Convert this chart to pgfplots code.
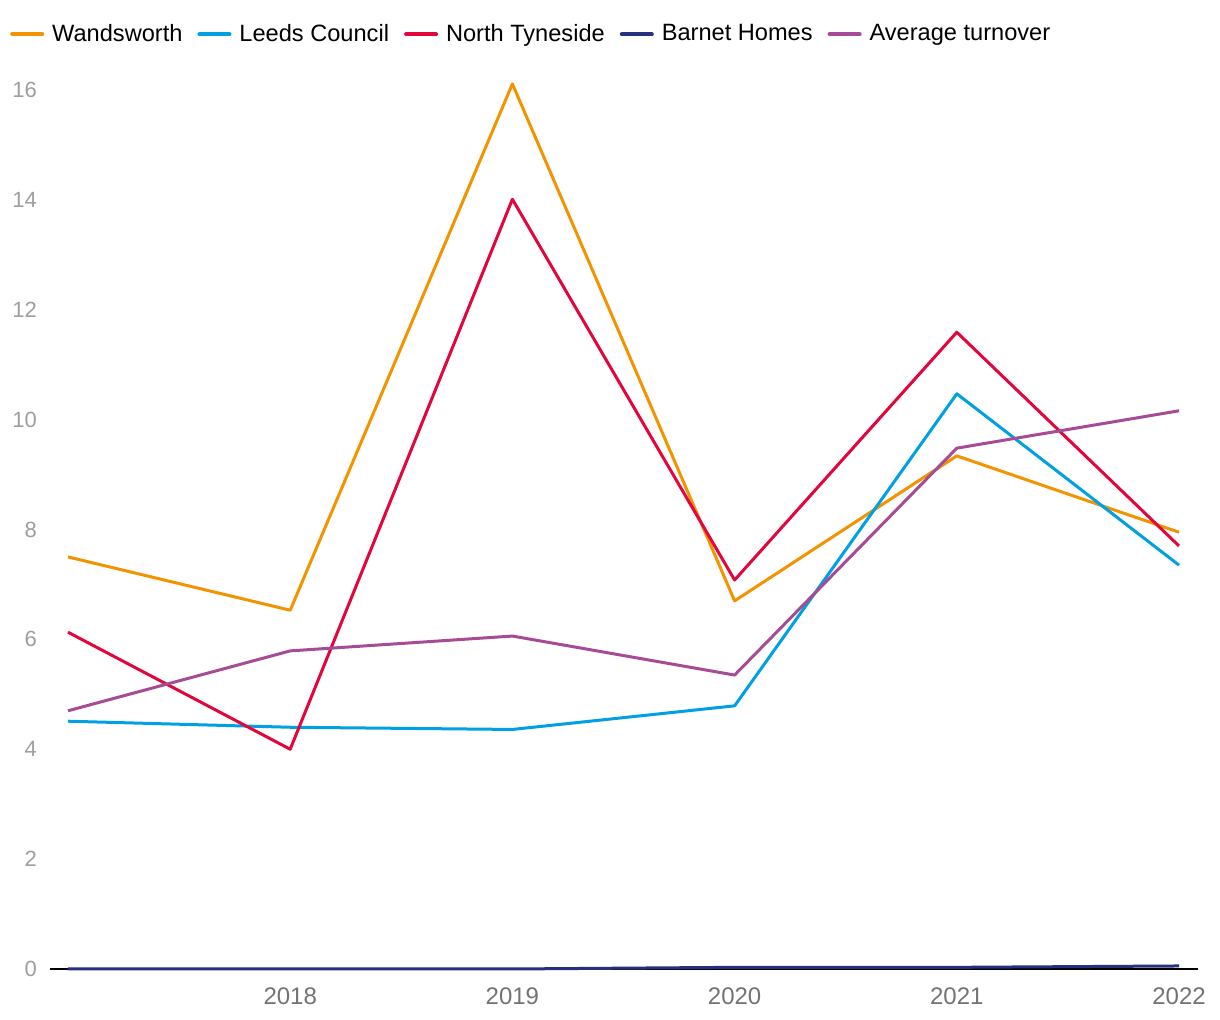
\documentclass[border=0pt]{standalone}
\usepackage{pgfplots}
\pgfplotsset{compat=1.18}
\usepackage{fontspec}
\setmainfont{Liberation Sans}
\definecolor{cW}{HTML}{F29400}
\definecolor{cL}{HTML}{00A0E3}
\definecolor{cN}{HTML}{E2063C}
\definecolor{cB}{HTML}{27307F}
\definecolor{cA}{HTML}{A64C97}
\definecolor{gridc}{HTML}{E3E3E3}
\begin{document}
\begin{tikzpicture}[x=0.5pt,y=0.5pt]
\useasboundingbox (0,0) rectangle (1220,1020);
\begin{axis}[
  at={(25pt,25.5pt)}, anchor=south west,
  scale only axis, width=574pt, height=453.25pt,
  xmin=2016.919, xmax=2022.0855, ymin=0, ymax=16.5,
  axis x line*=bottom, axis y line=none,
  axis line style={black, line width=1pt},
  xtick={2018,2019,2020,2021,2022},
  x tick label style={/pgf/number format/1000 sep={}},
  xticklabel style={font=\fontsize{12}{14}\selectfont, text=black!55, yshift=-6pt},
  major tick length=0pt,
  ytick={0,2,4,6,8,10,12,14,16},
  ymajorgrids, grid style={gridc, line width=0.6pt},
  /pgf/number format/assume math mode=true,
  clip=false,
  legend columns=-1,
  legend style={draw=none, fill=none, at={(-0.035,1.031)}, anchor=west,
    font=\fontsize{11.8}{14}\selectfont, inner sep=0pt,
    /tikz/every odd column/.append style={column sep=2pt},
    /tikz/every even column/.append style={column sep=5.5pt}},
  legend image code/.code={\draw[#1, line width=2pt, line cap=round] (0pt,0pt) -- (15pt,0pt);},
  every axis plot/.append style={line width=1.5pt, line join=round},
]
\pgfplotsinvokeforeach{0,2,4,6,8,10,12,14,16}{
  \node[anchor=east, text=black!38, font=\fontsize{11}{13}\selectfont] at (axis cs:2016.919,#1) [xshift=-3pt] {#1};
}
\addplot[cW] coordinates {(2017,7.5) (2018,6.53) (2019,16.11) (2020,6.70) (2021,9.34) (2022,7.95)};
\addlegendentry{Wandsworth}
\addplot[cL] coordinates {(2017,4.51) (2018,4.40) (2019,4.36) (2020,4.79) (2021,10.47) (2022,7.35)};
\addlegendentry{Leeds Council}
\addplot[cN] coordinates {(2017,6.13) (2018,4.0) (2019,14.01) (2020,7.08) (2021,11.59) (2022,7.70)};
\addlegendentry{North Tyneside}
\addplot[cB] coordinates {(2017,0) (2018,0) (2019,0) (2020,0.03) (2021,0.03) (2022,0.055)};
\addlegendentry{Barnet Homes}
\addplot[cA] coordinates {(2017,4.70) (2018,5.79) (2019,6.06) (2020,5.35) (2021,9.48) (2022,10.16)};
\addlegendentry{Average turnover}
\end{axis}
\end{tikzpicture}
\end{document}
